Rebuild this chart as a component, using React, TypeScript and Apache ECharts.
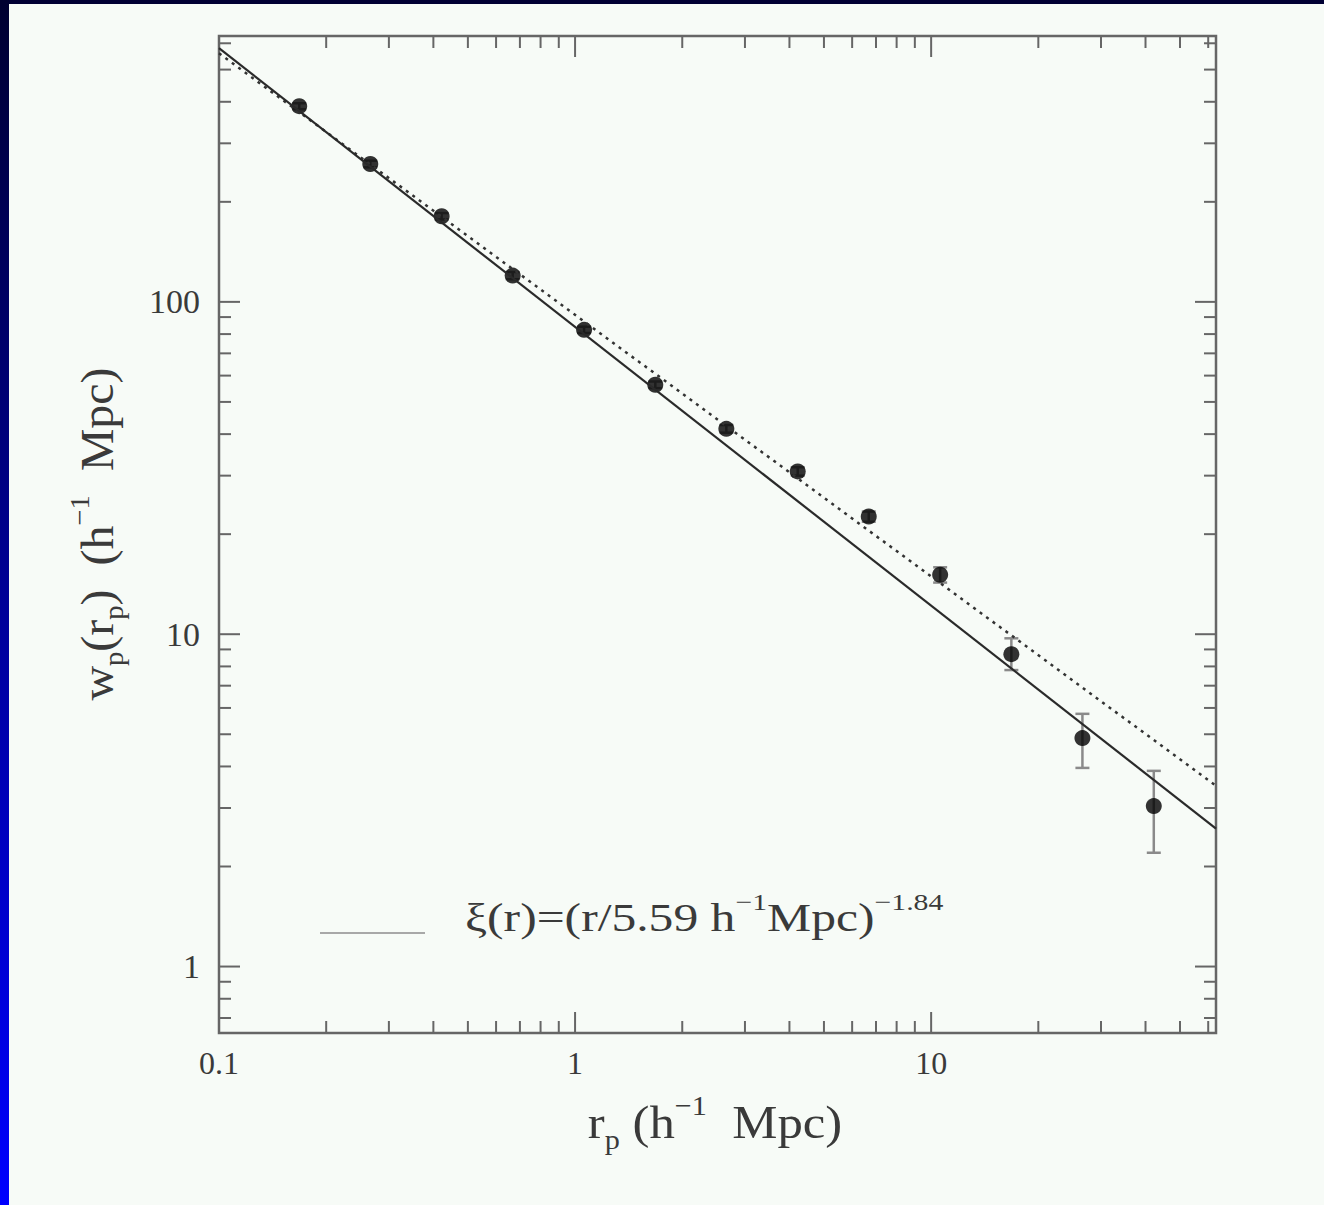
import { useEffect, useRef } from "react";
import * as echarts from "echarts";

// Projected correlation function measurements
const rp = [0.168, 0.266, 0.422, 0.668, 1.06, 1.68, 2.66, 4.22, 6.68, 10.6, 16.8, 26.6, 42.2];
const wp = [388, 260, 181, 120, 82.4, 56.3, 41.5, 30.9, 22.6, 15.1, 8.71, 4.87, 3.04];
const wpLow = [380, 254, 177, 117, 80.6, 55.0, 40.4, 30.0, 21.8, 14.3, 7.8, 3.96, 2.2];
const wpHigh = [396, 266, 185, 123, 84.2, 57.6, 42.6, 31.8, 23.4, 15.9, 9.72, 5.76, 3.88];

// Power-law fits (straight lines in log-log space, given by their end points)
const solidFitR = [0.1, 63.1];
const solidFitW = [580, 2.6];
const dottedFitR = [0.1, 63.1];
const dottedFitW = [560, 3.5];

// Axis ranges
const X_MIN = 0.1;
const X_MAX = 63.1;
const Y_MIN = 0.631;
const Y_MAX = 631;

// Tick marks drawn on all four sides of the frame
const xMajorTicks = [1, 10];
const xMinorTicks = [0.2, 0.3, 0.4, 0.5, 0.6, 0.7, 0.8, 0.9, 2, 3, 4, 5, 6, 7, 8, 9, 20, 30, 40, 50, 60];
const yMajorTicks = [1, 10, 100];
const yMinorTicks = [0.7, 0.8, 0.9, 2, 3, 4, 5, 6, 7, 8, 9, 20, 30, 40, 50, 60, 70, 80, 90, 200, 300, 400, 500, 600];

const SERIF = "'Liberation Serif', 'Times New Roman', serif";
const FRAME = "#666";
const TEXT = "#3a3a3a";

function decadeLabel(v: number): string {
  const l = Math.log10(v);
  if (Math.abs(l - Math.round(l)) > 1e-3) return "";
  const p = Math.round(l);
  return p < 0 ? (10 ** p).toFixed(-p) : String(10 ** p);
}

export default function App() {
  const ref = useRef<HTMLDivElement>(null);

  useEffect(() => {
    if (!ref.current) return;
    const chart = echarts.init(ref.current, undefined, { renderer: "svg" });

    const xTicks = [
      ...xMajorTicks.map((v) => [v, Y_MIN, 1]),
      ...xMinorTicks.map((v) => [v, Y_MIN, 0]),
    ];
    const yTicks = [
      ...yMajorTicks.map((v) => [X_MIN, v, 1]),
      ...yMinorTicks.map((v) => [X_MIN, v, 0]),
    ];
    const tickStyle = { stroke: FRAME, lineWidth: 2 };

    const option: echarts.EChartsOption = {
      animation: false,
      backgroundColor: "#f7fbf7",
      grid: {
        left: 219,
        top: 36,
        width: 997,
        height: 997,
        show: true,
        borderColor: FRAME,
        borderWidth: 2.5,
        backgroundColor: "transparent",
      },
      xAxis: {
        type: "log",
        logBase: 10,
        min: X_MIN,
        max: X_MAX,
        axisLine: { show: false },
        axisTick: { show: false },
        splitLine: { show: false },
        axisLabel: {
          formatter: (v: number) => decadeLabel(v),
          fontFamily: SERIF,
          fontSize: 32,
          color: TEXT,
          margin: 14,
        },
      },
      yAxis: {
        type: "log",
        logBase: 10,
        min: Y_MIN,
        max: Y_MAX,
        axisLine: { show: false },
        axisTick: { show: false },
        splitLine: { show: false },
        axisLabel: {
          formatter: (v: number) => decadeLabel(v),
          fontFamily: SERIF,
          fontSize: 34,
          color: TEXT,
          margin: 19,
        },
      },
      series: [
        {
          type: "custom",
          silent: true,
          data: xTicks,
          encode: { x: 0, y: 1 },
          renderItem: (_p: any, api: any) => {
            const v = api.value(0);
            const len = api.value(2) === 1 ? 21 : 12;
            const b = api.coord([v, Y_MIN]);
            const t = api.coord([v, Y_MAX]);
            return {
              type: "group",
              children: [
                { type: "line", shape: { x1: b[0], y1: b[1], x2: b[0], y2: b[1] - len }, style: tickStyle },
                { type: "line", shape: { x1: t[0], y1: t[1], x2: t[0], y2: t[1] + len }, style: tickStyle },
              ],
            };
          },
        },
        {
          type: "custom",
          silent: true,
          data: yTicks,
          encode: { x: 0, y: 1 },
          renderItem: (_p: any, api: any) => {
            const v = api.value(1);
            const len = api.value(2) === 1 ? 21 : 12;
            const l = api.coord([X_MIN, v]);
            const r = api.coord([X_MAX, v]);
            return {
              type: "group",
              children: [
                { type: "line", shape: { x1: l[0], y1: l[1], x2: l[0] + len, y2: l[1] }, style: tickStyle },
                { type: "line", shape: { x1: r[0], y1: r[1], x2: r[0] - len, y2: r[1] }, style: tickStyle },
              ],
            };
          },
        },
        {
          type: "line",
          data: dottedFitR.map((r, i) => [r, dottedFitW[i]]),
          showSymbol: false,
          symbol: "none",
          lineStyle: { color: "#333", width: 2.5, type: [3, 5] },
          silent: true,
        },
        {
          type: "line",
          data: solidFitR.map((r, i) => [r, solidFitW[i]]),
          showSymbol: false,
          symbol: "none",
          lineStyle: { color: "#2a2a2a", width: 2.2 },
          silent: true,
        },
        {
          type: "custom",
          silent: true,
          data: rp.map((r, i) => [r, wpLow[i], wpHigh[i]]),
          encode: { x: 0, y: [1, 2] },
          renderItem: (_p: any, api: any) => {
            const x = api.value(0);
            const lo = api.coord([x, api.value(1)]);
            const hi = api.coord([x, api.value(2)]);
            const w = 7;
            const st = { stroke: "#8a8a8a", lineWidth: 2.5 };
            return {
              type: "group",
              children: [
                { type: "line", shape: { x1: lo[0], y1: lo[1], x2: hi[0], y2: hi[1] }, style: st },
                { type: "line", shape: { x1: lo[0] - w, y1: lo[1], x2: lo[0] + w, y2: lo[1] }, style: st },
                { type: "line", shape: { x1: hi[0] - w, y1: hi[1], x2: hi[0] + w, y2: hi[1] }, style: st },
              ],
            };
          },
        },
        {
          type: "scatter",
          data: rp.map((r, i) => [r, wp[i]]),
          symbol: "circle",
          symbolSize: 16,
          itemStyle: { color: "#000" },
          silent: true,
        },
      ],
      graphic: [
        // frame bands along the top and left edges
        { type: "rect", left: 0, top: 0, shape: { width: 1324, height: 4 }, style: { fill: "#000033" }, silent: true },
        {
          type: "rect",
          left: 0,
          top: 0,
          shape: { width: 9, height: 1205 },
          style: {
            fill: new echarts.graphic.LinearGradient(0, 0, 0, 1, [
              { offset: 0, color: "#000030" },
              { offset: 1, color: "#0000ff" },
            ]),
          },
          silent: true,
        },
        // legend sample and formula
        {
          type: "line",
          shape: { x1: 320, y1: 933, x2: 425, y2: 933 },
          style: { stroke: "#a8a8a8", lineWidth: 2 },
          silent: true,
        },
        {
          type: "text",
          x: 465,
          y: 918,
          scaleX: 1.24,
          silent: true,
          style: {
            text: "{m|ξ(r)=(r/5.59 h}{u|−1}{m|Mpc)}{u|−1.84}",
            verticalAlign: "middle",
            align: "left",
            rich: {
              m: { fontFamily: SERIF, fontSize: 40, lineHeight: 56, fill: TEXT, verticalAlign: "middle" },
              u: { fontFamily: SERIF, fontSize: 24, lineHeight: 24, fill: TEXT, verticalAlign: "top" },
            },
          },
        },
        // x axis title
        {
          type: "text",
          x: 715,
          y: 1122,
          scaleX: 1.08,
          silent: true,
          style: {
            text: "{m|r}{s|p}{m| (h}{u|−1}{m|  Mpc)}",
            align: "center",
            verticalAlign: "middle",
            rich: {
              m: { fontFamily: SERIF, fontSize: 47, lineHeight: 62, fill: TEXT, verticalAlign: "middle" },
              s: { fontFamily: SERIF, fontSize: 28, lineHeight: 28, fill: TEXT, verticalAlign: "bottom" },
              u: { fontFamily: SERIF, fontSize: 28, lineHeight: 28, fill: TEXT, verticalAlign: "top" },
            },
          },
        },
        // y axis title
        {
          type: "text",
          x: 97,
          y: 534,
          rotation: Math.PI / 2,
          scaleX: 1.02,
          silent: true,
          style: {
            text: "{m|w}{s|p}{m|(r}{s|p}{m|)  (h}{u|−1}{m|  Mpc)}",
            align: "center",
            verticalAlign: "middle",
            rich: {
              m: { fontFamily: SERIF, fontSize: 47, lineHeight: 62, fill: TEXT, verticalAlign: "middle" },
              s: { fontFamily: SERIF, fontSize: 28, lineHeight: 28, fill: TEXT, verticalAlign: "bottom" },
              u: { fontFamily: SERIF, fontSize: 28, lineHeight: 28, fill: TEXT, verticalAlign: "top" },
            },
          },
        },
      ],
    };

    chart.setOption(option);
    return () => chart.dispose();
  }, []);

  return (
    <div
      ref={ref}
      style={{ position: "fixed", left: 0, top: 0, width: 1324, height: 1205 }}
    />
  );
}
